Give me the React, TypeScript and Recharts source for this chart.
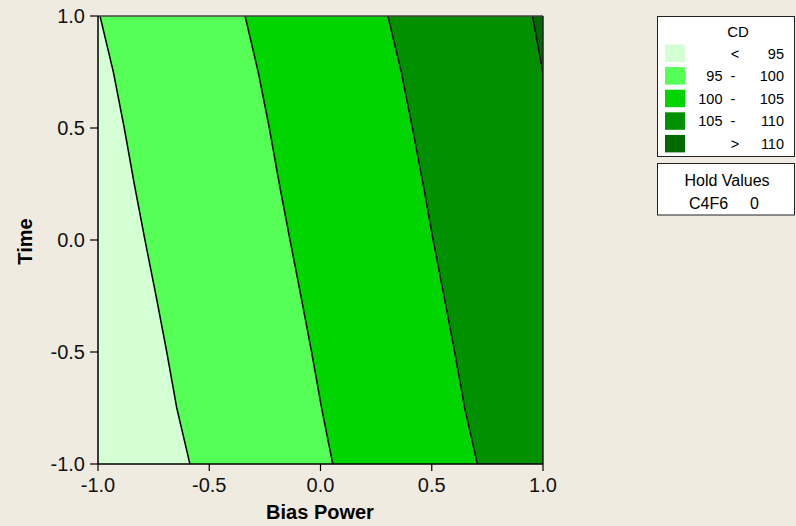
import React from 'react';
import { ComposedChart, Area, Line, XAxis, YAxis, ReferenceLine } from 'recharts';

// Time levels (y) at which the contour boundaries were read
const timeLevels = [1, 0.75, 0.5, 0.25, 0, -0.25, -0.5, -0.75, -1];
// Bias Power position of each CD contour boundary at those time levels
const cd95 = [-0.991, -0.931, -0.882, -0.837, -0.789, -0.739, -0.691, -0.646, -0.587];
const cd100 = [-0.339, -0.28, -0.23, -0.185, -0.137, -0.088, -0.04, 0.005, 0.055];
const cd105 = [0.303, 0.363, 0.413, 0.461, 0.506, 0.555, 0.603, 0.648, 0.705];
// 110 contour only crosses the top-right corner
const cd110Time = [1, 0.744, -1];
const cd110Bias = [0.953, 1, 1];
// full plot extent for the > 110 region
const fullTime = [1, -1];
const fullBias = [1, 1];

const axisTicks = [-1, -0.5, 0, 0.5, 1];

const colorLt95 = '#D4FFD4';
const color95 = '#55FF55';
const color100 = '#00D500';
const color105 = '#009000';
const colorGt110 = '#006A00';

const legendRows = [
  { lo: '', op: '<', hi: '95', color: colorLt95 },
  { lo: '95', op: '-', hi: '100', color: color95 },
  { lo: '100', op: '-', hi: '105', color: color100 },
  { lo: '105', op: '-', hi: '110', color: color105 },
  { lo: '', op: '>', hi: '110', color: colorGt110 },
];

const rows = timeLevels.map((y, i) => ({ y, b95: cd95[i], b100: cd100[i], b105: cd105[i] }));
const rows110 = cd110Time.map((y, i) => ({ y, b110: cd110Bias[i] }));
const rowsFull = fullTime.map((y, i) => ({ y, full: fullBias[i] }));

const FONT = '"Liberation Sans", Arial, Helvetica, sans-serif';
const BG = '#F0EBE1';

export default function App() {
  const tickStyle = { fill: '#111', fontSize: 20, fontFamily: FONT };
  const fmt = (v: number) => v.toFixed(1);
  return (
    <div style={{ position: 'fixed', left: 0, top: 0, width: 796, height: 526, background: BG, fontFamily: FONT }}>
      <ComposedChart
        width={796}
        height={526}
        layout="vertical"
        data={rows}
        margin={{ top: 16, right: 253, left: 38, bottom: 22 }}
      >
        <XAxis
          type="number"
          domain={[-1, 1]}
          ticks={axisTicks}
          tickFormatter={fmt}
          allowDataOverflow
          height={40}
          tick={tickStyle}
          tickSize={7}
          tickMargin={7}
          axisLine={{ stroke: '#000', strokeWidth: 1.5 }}
          tickLine={{ stroke: '#000', strokeWidth: 1.2 }}
        />
        <YAxis
          type="number"
          dataKey="y"
          domain={[-1, 1]}
          ticks={axisTicks}
          tickFormatter={fmt}
          allowDataOverflow
          reversed
          width={60}
          tick={tickStyle}
          tickSize={8}
          tickMargin={5}
          axisLine={{ stroke: '#000', strokeWidth: 1.5 }}
          tickLine={{ stroke: '#000', strokeWidth: 1.2 }}
        />
        <Area data={rowsFull} dataKey="full" type="linear" baseValue={-1} fill={colorGt110} fillOpacity={1} stroke="none" isAnimationActive={false} />
        <Area data={rows110} dataKey="b110" type="linear" baseValue={-1} fill={color105} fillOpacity={1} stroke="none" isAnimationActive={false} />
        <Area dataKey="b105" type="linear" baseValue={-1} fill={color100} fillOpacity={1} stroke="none" isAnimationActive={false} />
        <Area dataKey="b100" type="linear" baseValue={-1} fill={color95} fillOpacity={1} stroke="none" isAnimationActive={false} />
        <Area dataKey="b95" type="linear" baseValue={-1} fill={colorLt95} fillOpacity={1} stroke="none" isAnimationActive={false} />
        <Line dataKey="b95" type="linear" stroke="#000" strokeWidth={1.5} dot={false} isAnimationActive={false} />
        <Line dataKey="b100" type="linear" stroke="#000" strokeWidth={1.5} dot={false} isAnimationActive={false} />
        <Line dataKey="b105" type="linear" stroke="#000" strokeWidth={1.5} dot={false} isAnimationActive={false} />
        <Line data={rows110} dataKey="b110" type="linear" stroke="#000" strokeWidth={1.5} dot={false} isAnimationActive={false} />
        <ReferenceLine y={1} stroke="#444" strokeWidth={1.5} />
        <ReferenceLine x={1} stroke="#222" strokeWidth={1.5} />
      </ComposedChart>
      <svg width={796} height={526} style={{ position: 'absolute', left: 0, top: 0, pointerEvents: 'none' }} fontFamily={FONT}>
        <text x={320} y={519} textAnchor="middle" fontSize={20} fontWeight="bold" fill="#000">Bias Power</text>
        <text transform="translate(31.5,241.5) rotate(-90)" textAnchor="middle" fontSize={20} fontWeight="bold" fill="#000">Time</text>
        <rect x={657.5} y={16.5} width={137} height={140} fill="#fff" stroke="#222" />
        <text x={738} y={36.5} textAnchor="middle" fontSize={15} fill="#000">CD</text>
        {legendRows.map((r, i) => (
          <g key={i}>
            <rect x={665} y={44.5 + i * 22.6} width={20} height={17.5} fill={r.color} />
            {r.lo ? (
              <>
                <text x={722.5} y={58.5 + i * 22.6} textAnchor="end" fontSize={14.5} fill="#000">{r.lo}</text>
                <text x={733} y={58.5 + i * 22.6} textAnchor="middle" fontSize={14.5} fill="#000">{r.op}</text>
              </>
            ) : (
              <text x={735} y={58.5 + i * 22.6} textAnchor="middle" fontSize={14.5} fill="#000">{r.op}</text>
            )}
            <text x={784} y={58.5 + i * 22.6} textAnchor="end" fontSize={14.5} fill="#000">{r.hi}</text>
          </g>
        ))}
        <rect x={657.5} y={163.5} width={137} height={51.5} fill="#fff" stroke="#222" />
        <text x={727} y={186} textAnchor="middle" fontSize={16} fill="#000">Hold Values</text>
        <text x={689} y={209} fontSize={16} fill="#000">C4F6</text>
        <text x={750} y={209} fontSize={16} fill="#000">0</text>
      </svg>
    </div>
  );
}
